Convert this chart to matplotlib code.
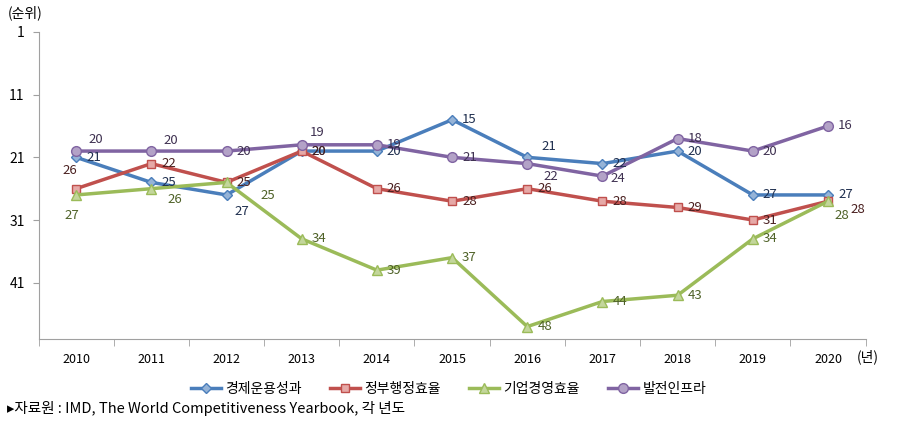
import matplotlib.pyplot as plt

plt.rcParams['font.family'] = ['Noto Sans CJK KR', 'DejaVu Sans']
plt.rcParams['axes.unicode_minus'] = False

years = ['2010', '2011', '2012', '2013', '2014', '2015', '2016', '2017', '2018', '2019', '2020']
economy = [21, 25, 27, 20, 20, 15, 21, 22, 20, 27, 27]
government = [26, 22, 25, 20, 26, 28, 26, 28, 29, 31, 28]
business = [27, 26, 25, 34, 39, 37, 48, 44, 43, 34, 28]
infra = [20, 20, 20, 19, 19, 21, 22, 24, 18, 20, 16]
names = ['경제운용성과', '정부행정효율', '기업경영효율', '발전인프라']

# 선 색, 마커 채움색, 라벨 색, 마커
styles = [
    ('#4A7EBB', '#95B3D7', '#1F2F4F', 'D', 5),
    ('#C0504D', '#E6A9A7', '#4A2020', 's', 6),
    ('#9BBB59', '#C3D69B', '#4F6228', '^', 7),
    ('#8064A2', '#B3A2C7', '#3F3151', 'o', 7),
]

# 라벨 위치 (픽셀 오프셋)
R = (10, 0)
offsets = [
    [R, R, (8, -17), R, R, R, (14, 11), R, R, R, R],
    [(-14, 18), R, R, (10, 0), R, R, R, R, R, R, (22, -8)],
    [(-12, -21), (16, -11), (34, -13), R, R, R, R, R, R, R, (6, -14)],
    [(12, 12), (12, 11), R, (8, 12), R, R, (16, -13), (8, -2), R, R, R],
]

fig, ax = plt.subplots(figsize=(8.97, 4.32), dpi=100)
fig.subplots_adjust(left=0.043, right=0.965, top=0.926, bottom=0.215)

x = list(range(len(years)))
series = [economy, government, business, infra]
for vals, name, st, offs in zip(series, names, styles, offsets):
    lc, fc, tc, mk, ms = st
    ax.plot(x, vals, color=lc, linewidth=2.5, marker=mk, markersize=ms,
            markerfacecolor=fc, markeredgecolor=lc, markeredgewidth=1, label=name)
    for xi, v, off in zip(x, vals, offs):
        ax.annotate(str(v), (xi, v), xytext=off, textcoords='offset pixels',
                    ha='left', va='center', fontsize=9.5, color=tc)

ax.set_ylim(50, 1)
ax.set_yticks([1, 11, 21, 31, 41])
ax.set_xlim(-0.5, len(years) - 0.5)
ax.set_xticks(x)
ax.set_xticklabels(years, fontsize=9)
ax.set_xticks([i - 0.5 for i in range(len(years) + 1)], minor=True)
ax.tick_params(axis='x', which='major', length=0, pad=10)
ax.tick_params(axis='x', which='minor', length=5, color='#A0A0A0', direction='out')
ax.tick_params(axis='y', length=4, color='#A0A0A0', labelsize=10, pad=6)

for s in ['top', 'right']:
    ax.spines[s].set_visible(False)
ax.spines['left'].set_color('#A0A0A0')
ax.spines['bottom'].set_color('#A0A0A0')

fig.text(0.009, 0.97, '(순위)', fontsize=10, va='center')
fig.text(0.955, 0.174, '(년)', fontsize=10, va='center')
fig.legend(loc='center', bbox_to_anchor=(0.5, 0.1), ncol=4, frameon=False,
           fontsize=10, handlelength=2.2, columnspacing=2, handletextpad=0.3)
fig.text(0.008, 0.055, '▸자료원 : IMD, The World Competitiveness Yearbook, 각 년도',
         fontsize=10.5, va='center', family=['Noto Sans CJK KR', 'DejaVu Sans'])

plt.savefig('out.png')
